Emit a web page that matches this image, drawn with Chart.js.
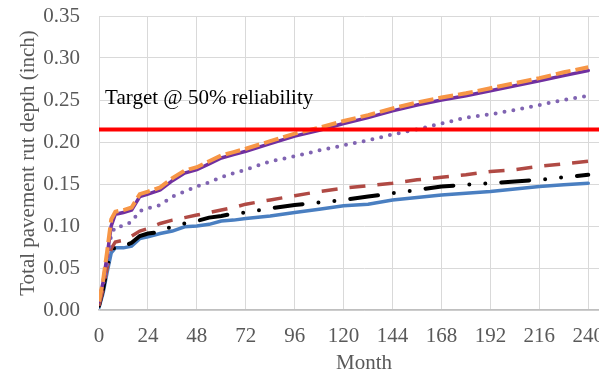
<!DOCTYPE html>
<html>
<head>
<meta charset="utf-8">
<script src="https://cdn.jsdelivr.net/npm/chart.js@4"></script>
<style>
  html,body{margin:0;padding:0;background:#fff;}
  #wrap{width:599px;height:377px;overflow:hidden;position:relative;}
  #chart{display:block;}
</style>
</head>
<body>
<div id="wrap"><canvas id="chart" width="640" height="377"></canvas></div>
<script>
// month of service
const months=[0,2,4,6,8,12,16,20,24,30,36,42,48,54,60,66,72,84,96,108,120,132,144,156,168,180,192,204,216,228,240];

// rut depth (inch)
const blueSolid=[0.003,0.020,0.045,0.068,0.074,0.074,0.076,0.085,0.087,0.091,0.094,0.099,0.100,0.102,0.106,0.107,0.109,0.112,0.116,0.120,0.124,0.126,0.131,0.134,0.137,0.139,0.141,0.144,0.147,0.149,0.151];
const blackDashDot=[0.005,0.025,0.050,0.070,0.075,0.076,0.080,0.088,0.091,0.093,0.100,0.103,0.106,0.110,0.112,0.115,0.116,0.121,0.125,0.128,0.131,0.135,0.139,0.143,0.147,0.149,0.151,0.153,0.155,0.158,0.161];
const redDash=[0.005,0.025,0.050,0.073,0.081,0.083,0.088,0.094,0.097,0.103,0.107,0.110,0.113,0.116,0.119,0.122,0.126,0.131,0.136,0.141,0.145,0.148,0.151,0.155,0.158,0.161,0.165,0.167,0.171,0.174,0.177];
const purpleDot=[0.012,0.030,0.055,0.090,0.099,0.100,0.105,0.118,0.121,0.125,0.135,0.141,0.147,0.152,0.158,0.163,0.167,0.177,0.183,0.190,0.196,0.202,0.209,0.215,0.222,0.229,0.233,0.238,0.244,0.250,0.255];
const purpleSolid=[0.010,0.033,0.065,0.100,0.114,0.116,0.119,0.135,0.138,0.143,0.154,0.163,0.167,0.174,0.181,0.185,0.189,0.198,0.207,0.214,0.222,0.229,0.237,0.244,0.250,0.255,0.261,0.267,0.273,0.279,0.285];
const orangeDash=[0.010,0.035,0.070,0.108,0.117,0.119,0.122,0.138,0.141,0.146,0.157,0.166,0.170,0.177,0.184,0.188,0.192,0.201,0.210,0.217,0.225,0.232,0.240,0.247,0.253,0.258,0.264,0.270,0.276,0.283,0.289];

// target line
const targetDepth=0.215;
const targetLabel="Target @ 50% reliability";
const targetLabelAt={x:3,y:0.252};

const xTickStep=24, xTickMax=240, xMax=260;
const yMax=0.35, yTickStep=0.05;

const serif="'Liberation Serif','Times New Roman',serif";
const grey="#595959";

const pts=arr=>arr.map((v,i)=>({x:months[i],y:v}));

const series=(data,color,width,dash,cap,order)=>({
  data:pts(data),
  borderColor:color,
  borderWidth:width,
  borderDash:dash,
  borderCapStyle:cap,
  pointRadius:0,
  tension:0,
  fill:false,
  order:order
});

const labelPlugin={
  id:'targetLabel',
  afterDatasetsDraw(chart){
    const {ctx,scales:{x,y}}=chart;
    ctx.save();
    ctx.font="21px "+serif;
    ctx.fillStyle="#000";
    ctx.textAlign="left";
    ctx.textBaseline="middle";
    ctx.fillText(targetLabel,x.getPixelForValue(targetLabelAt.x),y.getPixelForValue(targetLabelAt.y));
    ctx.restore();
  }
};

new Chart(document.getElementById('chart'),{
  type:'line',
  data:{
    datasets:[
      {data:[{x:0,y:targetDepth},{x:xMax,y:targetDepth}],borderColor:'#ff0000',borderWidth:4,pointRadius:0,order:0},
      series(orangeDash,'#f79646',4,[15,5],'butt',1),
      series(purpleSolid,'#7030a0',3.5,[],'round',2),
      series(purpleDot,'#8064b2',4,[0,9],'round',3),
      series(redDash,'#b04a44',3.5,[16,12],'butt',4),
      series(blackDashDot,'#000000',4,[28,16,0,16,0,16],'round',5),
      series(blueSolid,'#4a7fc1',3.5,[],'round',6)
    ]
  },
  options:{
    responsive:false,
    animation:false,
    layout:{padding:{top:16,right:11,left:0,bottom:0}},
    plugins:{legend:{display:false},tooltip:{enabled:false}},
    scales:{
      x:{
        type:'linear',
        min:0,max:xMax,
        grid:{color:'#d9d9d9',drawTicks:false},
        border:{color:'#bfbfbf',width:1.5},
        ticks:{stepSize:xTickStep,includeBounds:false,padding:14,color:grey,font:{family:serif,size:21},
          callback:v=>v<=xTickMax?v:''},
        title:{display:true,text:'Month',color:grey,font:{family:serif,size:21},padding:{top:0,bottom:1}},
        afterFit:s=>{s.height=67;}
      },
      y:{
        min:0,max:yMax,
        grid:{color:'#d9d9d9',drawTicks:false},
        border:{color:'#d9d9d9'},
        ticks:{stepSize:yTickStep,padding:19,color:grey,font:{family:serif,size:21},
          callback:v=>v.toFixed(2)},
        title:{display:true,text:'Total pavement rut depth (inch)',color:grey,font:{family:serif,size:21},padding:{top:16,bottom:0}},
        afterFit:s=>{s.width=99;s.paddingTop=0;s.paddingBottom=0;}
      }
    }
  },
  plugins:[labelPlugin]
});
</script>
</body>
</html>
